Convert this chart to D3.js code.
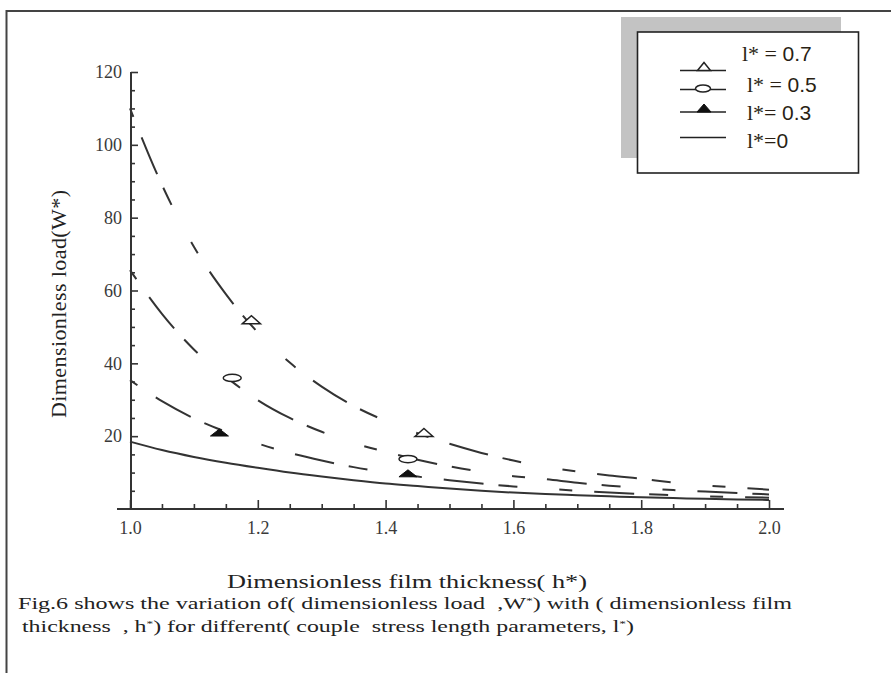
<!DOCTYPE html>
<html>
<head>
<meta charset="utf-8">
<script src="https://cdn.jsdelivr.net/npm/d3@7"></script>
<style>
  html, body { margin: 0; padding: 0; background: #fff; }
  svg { display: block; }
  text { font-family: "Liberation Serif", "Times New Roman", serif; }
</style>
</head>
<body>
<svg id="chart" width="891" height="673"></svg>
<script>
// Dimensionless film thickness h*
const filmThickness = [1.00, 1.05, 1.10, 1.15, 1.20, 1.25, 1.30, 1.35, 1.40, 1.45, 1.50,
                       1.55, 1.60, 1.65, 1.70, 1.75, 1.80, 1.85, 1.90, 1.95, 2.00];

// Dimensionless load W* for each couple stress length parameter l*
const loadL07 = [110, 89, 72, 59, 48.5, 40.2, 33.6, 28.3, 24.2, 20.8, 17.9,
                 15.4, 13.3, 11.6, 10.3, 9.2, 8.3, 7.3, 6.5, 5.9, 5.3];
const loadL05 = [65.6, 53.6, 43.8, 36.3, 29.9, 25.0, 21.2, 18.1, 15.7, 13.5, 11.7,
                 10.2, 9.0, 8.2, 7.2, 6.4, 5.8, 5.2, 4.8, 4.4, 4.0];
const loadL03 = [35.4, 29.6, 24.9, 21.2, 18.0, 15.4, 13.3, 11.5, 10.1, 8.9, 7.9,
                 7.0, 6.2, 5.6, 5.0, 4.5, 4.1, 3.8, 3.5, 3.3, 3.1];
const loadL00 = [18.5, 16.2, 14.3, 12.7, 11.3, 10.0, 8.9, 7.9, 7.0, 6.3, 5.6,
                 5.0, 4.5, 4.1, 3.8, 3.5, 3.2, 3.0, 2.8, 2.6, 2.5];

// Marker positions [h*, W*] placed on the curves
const markersL07 = [[1.19, 52], [1.46, 21]];
const markersL05 = [[1.16, 36], [1.435, 13.7]];
const markersL03 = [[1.14, 21], [1.435, 9.8]];

// Legend labels
const legendLabels = [["l* = ", "0.7"], ["l* = ", "0.5"], ["l*= ", "0.3"], ["l*=", "0"]];

// Axis ticks
const xTickValues = [1.0, 1.2, 1.4, 1.6, 1.8, 2.0];
const xMinorTicks = [1.05, 1.1, 1.15, 1.25, 1.3, 1.35, 1.45, 1.5, 1.55, 1.65, 1.7, 1.75, 1.85, 1.9, 1.95];
const yTickValues = [20, 40, 60, 80, 100, 120];
const yMinorTicks = [5, 10, 15, 25, 30, 35, 45, 50, 55, 65, 70, 75, 85, 90, 95, 105, 110, 115];

const svg = d3.select("#chart");
const ink = "#333";
const wideSerif = "'DejaVu Serif', serif";

// Page frame
svg.append("path")
  .attr("d", "M6.5,673 V11 H891")
  .attr("fill", "none").attr("stroke", "#444").attr("stroke-width", 2);

// Scales
const x = d3.scaleLinear().domain([1, 2]).range([130, 769]);
const y = d3.scaleLinear().domain([0, 120]).range([509, 72]);

// Axis lines
svg.append("line")
  .attr("x1", x(1) - 13).attr("x2", x(2) + 15)
  .attr("y1", y(0)).attr("y2", y(0))
  .attr("stroke", ink).attr("stroke-width", 2);
svg.append("line")
  .attr("x1", x(1) + 1).attr("x2", x(1) + 1)
  .attr("y1", y(120)).attr("y2", y(0))
  .attr("stroke", ink).attr("stroke-width", 2);

function styleAxis(g) {
  g.select(".domain").remove();
  g.selectAll(".tick line").attr("stroke", ink).attr("stroke-width", 1.6);
  g.selectAll(".tick text")
    .attr("font-family", "'Liberation Serif', serif")
    .attr("font-size", 18).attr("fill", "#3a3a3a");
}

// Y axis (ticks inward)
svg.append("g").attr("transform", `translate(${x(1) + 1},0)`)
  .call(d3.axisLeft(y).tickValues(yTickValues).tickSize(-7).tickPadding(9))
  .call(styleAxis);
svg.append("g").attr("transform", `translate(${x(1) + 1},0)`)
  .call(d3.axisLeft(y).tickValues(yMinorTicks).tickSize(-4).tickFormat(""))
  .call(styleAxis);

// X axis (ticks inward)
svg.append("g").attr("transform", `translate(0,${y(0)})`)
  .call(d3.axisBottom(x).tickValues(xTickValues).tickSize(-9).tickPadding(12).tickFormat(d3.format(".1f")))
  .call(styleAxis);
svg.append("g").attr("transform", `translate(0,${y(0)})`)
  .call(d3.axisBottom(x).tickValues(xMinorTicks).tickSize(-5).tickFormat(""))
  .call(styleAxis);

// Curves
const line = d3.line()
  .x((d, i) => x(filmThickness[i]))
  .y(d => y(d))
  .curve(d3.curveMonotoneX);

const dashPattern = "40,15,19,42,13,22";
const curves = [
  { values: loadL07, dash: dashPattern, offset: 120 },
  { values: loadL05, dash: dashPattern, offset: 118 },
  { values: loadL03, dash: dashPattern, offset: 120 },
  { values: loadL00, dash: null, offset: 0 }
];
curves.forEach(c => {
  svg.append("path")
    .attr("d", line(c.values))
    .attr("fill", "none")
    .attr("stroke", ink)
    .attr("stroke-width", 2)
    .attr("stroke-dasharray", c.dash)
    .attr("stroke-dashoffset", c.offset);
});

// Marker shapes
function openTriangle(g, cx, cy, w, h) {
  g.append("path")
    .attr("d", `M${cx - w / 2},${cy + h / 2} L${cx},${cy - h / 2} L${cx + w / 2},${cy + h / 2} Z`)
    .attr("fill", "#fff").attr("stroke", "#222").attr("stroke-width", 1.5);
}
function filledTriangle(g, cx, cy, w, h) {
  g.append("path")
    .attr("d", `M${cx - w / 2},${cy + h / 2} L${cx},${cy - h / 2} L${cx + w / 2},${cy + h / 2} Z`)
    .attr("fill", "#111").attr("stroke", "#111").attr("stroke-width", 1);
}
function openEllipse(g, cx, cy, rx, ry) {
  g.append("ellipse")
    .attr("cx", cx).attr("cy", cy).attr("rx", rx).attr("ry", ry)
    .attr("fill", "#fff").attr("stroke", "#222").attr("stroke-width", 1.5);
}

const markerLayer = svg.append("g");
markersL07.forEach(([h, w]) => openTriangle(markerLayer, x(h), y(w), 18, 8));
markersL05.forEach(([h, w]) => openEllipse(markerLayer, x(h), y(w), 9, 3.6));
markersL03.forEach(([h, w]) => filledTriangle(markerLayer, x(h), y(w), 18, 7));

// Legend
svg.append("rect").attr("x", 621).attr("y", 17).attr("width", 220).attr("height", 141)
  .attr("fill", "#c3c3c3");
svg.append("rect").attr("x", 637.5).attr("y", 32).attr("width", 221).attr("height", 141)
  .attr("fill", "#fff").attr("stroke", "#222").attr("stroke-width", 1.6);

const legendLineY = [70.5, 89.5, 112, 137.5];
const legendTextPos = [[742, 61], [747, 92], [747, 120], [747, 148]];
const legend = svg.append("g");
legendLineY.forEach(ly => {
  legend.append("line").attr("x1", 680).attr("x2", 726).attr("y1", ly).attr("y2", ly)
    .attr("stroke", "#222").attr("stroke-width", 1.6);
});
openTriangle(legend, 704, legendLineY[0] - 4, 13, 8);
openEllipse(legend, 703, legendLineY[1] - 1, 7.5, 3.6);
filledTriangle(legend, 704, legendLineY[2] - 4, 14, 8);

legendLabels.forEach(([lhs, num], i) => {
  const [tx, ty] = legendTextPos[i];
  const t = legend.append("text")
    .attr("x", tx).attr("y", ty)
    .attr("font-size", 22).attr("fill", "#2a1f14")
    .style("white-space", "pre");
  t.append("tspan").text(lhs);
  t.append("tspan").attr("font-family", "'Liberation Sans', Arial, sans-serif").attr("font-size", 21).text(num);
});

// Axis titles
svg.append("text")
  .attr("transform", "translate(66,304) rotate(-90)")
  .attr("text-anchor", "middle")
  .attr("font-size", 22).attr("fill", "#222")
  .attr("textLength", 228).attr("lengthAdjust", "spacing")
  .text("Dimensionless load(W*)");

svg.append("text")
  .attr("x", 407).attr("y", 588)
  .attr("text-anchor", "middle")
  .attr("font-family", wideSerif)
  .attr("font-size", 19).attr("fill", "#222")
  .attr("textLength", 360).attr("lengthAdjust", "spacingAndGlyphs")
  .text("Dimensionless film thickness( h*)");

// Figure caption
function captionLine(xPos, yPos, len, parts) {
  const t = svg.append("text")
    .attr("x", xPos).attr("y", yPos)
    .attr("font-family", wideSerif)
    .attr("font-size", 16).attr("fill", "#222")
    .attr("textLength", len).attr("lengthAdjust", "spacingAndGlyphs")
    .style("white-space", "pre");
  parts.forEach(p => {
    const s = t.append("tspan").text(p.text);
    if (p.sup) s.attr("font-size", 9).attr("baseline-shift", "super");
  });
}
captionLine(18, 609, 774, [
  { text: "Fig.6 shows the variation of( dimensionless load  ,W" },
  { text: "*", sup: true },
  { text: ") with ( dimensionless film" }
]);
captionLine(22, 632, 612, [
  { text: "thickness  , h" },
  { text: "*", sup: true },
  { text: ") for different( couple  stress length parameters, l" },
  { text: "*", sup: true },
  { text: ")" }
]);
</script>
</body>
</html>
